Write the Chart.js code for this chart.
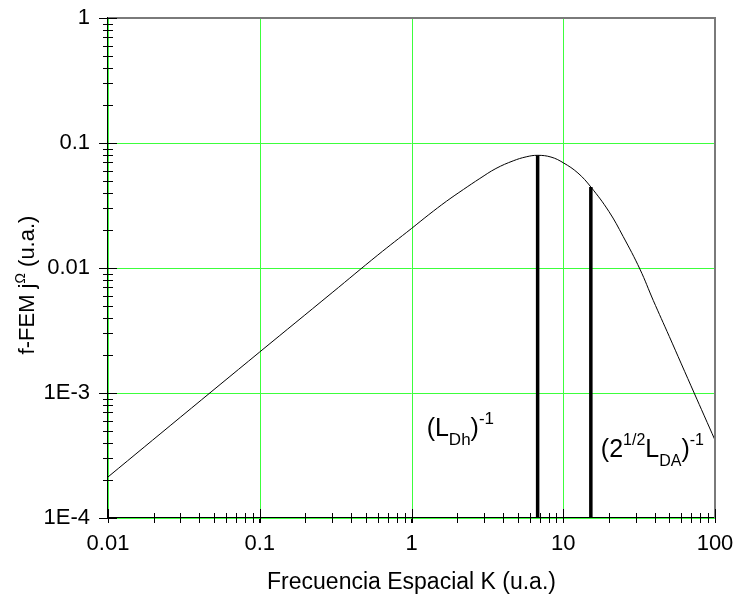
<!DOCTYPE html>
<html>
<head>
<meta charset="utf-8">
<script src="https://cdn.jsdelivr.net/npm/chart.js@4/dist/chart.umd.min.js"></script>
<style>
  html, body { margin: 0; padding: 0; background: #fff; }
</style>
</head>
<body>
<canvas id="grafico-fem" width="735" height="597"></canvas>
<script>
// Curva f-FEM frente a la frecuencia espacial K
const kValores = [0.01, 0.03, 0.1, 0.3, 0.6, 1, 1.3, 1.7, 2.2, 2.82, 3.6, 4.68, 5.7, 6.78, 8.3, 10, 12.5, 15.2, 20, 24.8, 32, 39.2, 50, 60, 72.9, 85, 100];
const femValores = [2.13e-4, 6.4e-4, 2.13e-3, 6.35e-3, 0.0127, 0.0207, 0.0267, 0.0342, 0.0425, 0.0520, 0.0625, 0.0720, 0.0775, 0.0797, 0.0772, 0.0695, 0.0575, 0.0445, 0.0283, 0.0179, 0.0098, 0.0055, 2.83e-3, 1.71e-3, 1.0e-3, 6.56e-4, 4.2e-4];

// Barras verticales: (L_Dh)^-1 y (2^1/2 L_DA)^-1
const marcasK = [6.78, 15.2];
const marcasTope = [0.0797, 0.0445];

const ticksX = [0.01, 0.1, 1, 10, 100];
const etiquetasX = ['0.01', '0.1', '1', '10', '100'];
const ticksY = [1e-4, 1e-3, 0.01, 0.1, 1];
const etiquetasY = ['1E-4', '1E-3', '0.01', '0.1', '1'];

const FUENTE = '"Liberation Sans", Arial, sans-serif';
const VERDE = 'rgb(60,255,60)';

// dibuja texto con sub/superindices, devuelve el ancho
const textoRico = (ctx, partes, x, y, medir) => {
  let cx = x;
  for (const p of partes) {
    ctx.font = `${p.size}px ${FUENTE}`;
    if (!medir) ctx.fillText(p.t, cx, y + (p.dy || 0));
    cx += ctx.measureText(p.t).width;
  }
  return cx - x;
};

const rejilla = {
  id: 'rejilla',
  beforeDatasetsDraw(chart) {
    const { ctx, chartArea: a, scales: { x, y } } = chart;
    ctx.save();
    ctx.strokeStyle = VERDE;
    ctx.lineWidth = 1;
    ctx.beginPath();
    for (const v of ticksX) {
      const px = Math.round(x.getPixelForValue(v)) + 0.5;
      ctx.moveTo(px, a.top);
      ctx.lineTo(px, a.bottom);
    }
    for (const v of ticksY) {
      const py = Math.round(y.getPixelForValue(v)) + 0.5;
      ctx.moveTo(a.left, py);
      ctx.lineTo(a.right, py);
    }
    ctx.stroke();
    ctx.restore();
  }
};

const marcoEjes = {
  id: 'marcoEjes',
  afterDraw(chart) {
    const { ctx, chartArea: a, scales: { x, y } } = chart;
    ctx.save();

    // bordes superior y derecho
    ctx.strokeStyle = '#7a7a7a';
    ctx.lineWidth = 2;
    ctx.beginPath();
    ctx.moveTo(a.left, a.top);
    ctx.lineTo(a.right, a.top);
    ctx.lineTo(a.right, a.bottom);
    ctx.stroke();

    ctx.strokeStyle = '#000';
    ctx.lineWidth = 1;
    ctx.beginPath();
    // ticks menores cruzando los ejes
    for (let d = 0.01; d < 100; d *= 10) {
      for (let m = 2; m <= 9; m++) {
        const px = Math.round(x.getPixelForValue(m * d)) + 0.5;
        ctx.moveTo(px, a.bottom - 5);
        ctx.lineTo(px, a.bottom + 5);
      }
    }
    for (let d = 1e-4; d < 1; d *= 10) {
      for (let m = 2; m <= 9; m++) {
        const py = Math.round(y.getPixelForValue(m * d)) + 0.5;
        ctx.moveTo(a.left - 5, py);
        ctx.lineTo(a.left + 5, py);
      }
    }
    // ticks mayores
    for (const v of ticksX) {
      const px = Math.round(x.getPixelForValue(v)) + 0.5;
      ctx.moveTo(px, a.bottom - 9);
      ctx.lineTo(px, a.bottom + 5);
    }
    for (const v of ticksY) {
      const py = Math.round(y.getPixelForValue(v)) + 0.5;
      ctx.moveTo(a.left - 9, py);
      ctx.lineTo(a.left + 9, py);
    }
    ctx.stroke();

    ctx.fillStyle = '#000';
    ctx.textBaseline = 'alphabetic';
    ctx.textAlign = 'left';

    // rotulos de las barras
    const rot1 = [
      { t: '(L', size: 25 }, { t: 'Dh', size: 17, dy: 9 },
      { t: ')', size: 25 }, { t: '-1', size: 17, dy: -12 }
    ];
    const rot2 = [
      { t: '(2', size: 25 }, { t: '1/2', size: 16, dy: -12 },
      { t: 'L', size: 25 }, { t: 'DA', size: 16, dy: 9 },
      { t: ')', size: 25 }, { t: '-1', size: 16, dy: -12 }
    ];
    textoRico(ctx, rot1, x.getPixelForValue(marcasK[0]) - 111, a.bottom - 82);
    textoRico(ctx, rot2, x.getPixelForValue(marcasK[1]) + 10, a.bottom - 61);

    // titulo eje X
    ctx.font = `23px ${FUENTE}`;
    ctx.textAlign = 'center';
    ctx.fillText('Frecuencia Espacial K (u.a.)', (a.left + a.right) / 2, 589);

    // titulo eje Y con superindice
    const tituloY = [
      { t: 'f-FEM j', size: 22 }, { t: 'Ω', size: 14, dy: -9 }, { t: ' (u.a.)', size: 22 }
    ];
    ctx.textAlign = 'left';
    ctx.translate(34, 285);
    ctx.rotate(-Math.PI / 2);
    const ancho = textoRico(ctx, tituloY, 0, 0, true);
    textoRico(ctx, tituloY, -ancho / 2, 0);

    ctx.restore();
  }
};

const lineaMarca = (k, tope) => ({
  data: [{ x: k, y: 1e-4 }, { x: k, y: tope }],
  borderColor: '#000',
  borderWidth: 3.5,
  pointRadius: 0,
  borderCapStyle: 'butt'
});

new Chart(document.getElementById('grafico-fem'), {
  type: 'line',
  data: {
    datasets: [
      {
        data: kValores.map((k, i) => ({ x: k, y: femValores[i] })),
        borderColor: '#000',
        borderWidth: 1,
        pointRadius: 0,
        tension: 0.4
      },
      lineaMarca(marcasK[0], marcasTope[0]),
      lineaMarca(marcasK[1], marcasTope[1])
    ]
  },
  options: {
    responsive: false,
    animation: false,
    devicePixelRatio: 1,
    layout: { padding: { top: 18, right: 20, left: 0, bottom: 0 } },
    plugins: { legend: { display: false }, tooltip: { enabled: false } },
    scales: {
      x: {
        type: 'logarithmic',
        min: 0.01,
        max: 100,
        afterBuildTicks: s => { s.ticks = ticksX.map(v => ({ value: v })); },
        afterFit: s => { s.height = 79; s.paddingLeft = 0; s.paddingRight = 0; },
        ticks: {
          autoSkip: false,
          maxRotation: 0,
          padding: 8,
          color: '#000',
          font: { family: FUENTE, size: 22 },
          callback: (v, i) => etiquetasX[i]
        },
        grid: { drawOnChartArea: false, drawTicks: true, tickLength: 5, tickColor: '#000' },
        border: { color: '#000', width: 2 }
      },
      y: {
        type: 'logarithmic',
        min: 1e-4,
        max: 1,
        afterBuildTicks: s => { s.ticks = ticksY.map(v => ({ value: v })); },
        afterFit: s => { s.width = 108; s.paddingTop = 0; s.paddingBottom = 0; },
        ticks: {
          autoSkip: false,
          padding: 9,
          color: '#000',
          font: { family: FUENTE, size: 22 },
          callback: (v, i) => etiquetasY[i]
        },
        grid: { drawOnChartArea: false, drawTicks: true, tickLength: 9, tickColor: '#000' },
        border: { color: '#000', width: 2 }
      }
    }
  },
  plugins: [rejilla, marcoEjes]
});
</script>
</body>
</html>
